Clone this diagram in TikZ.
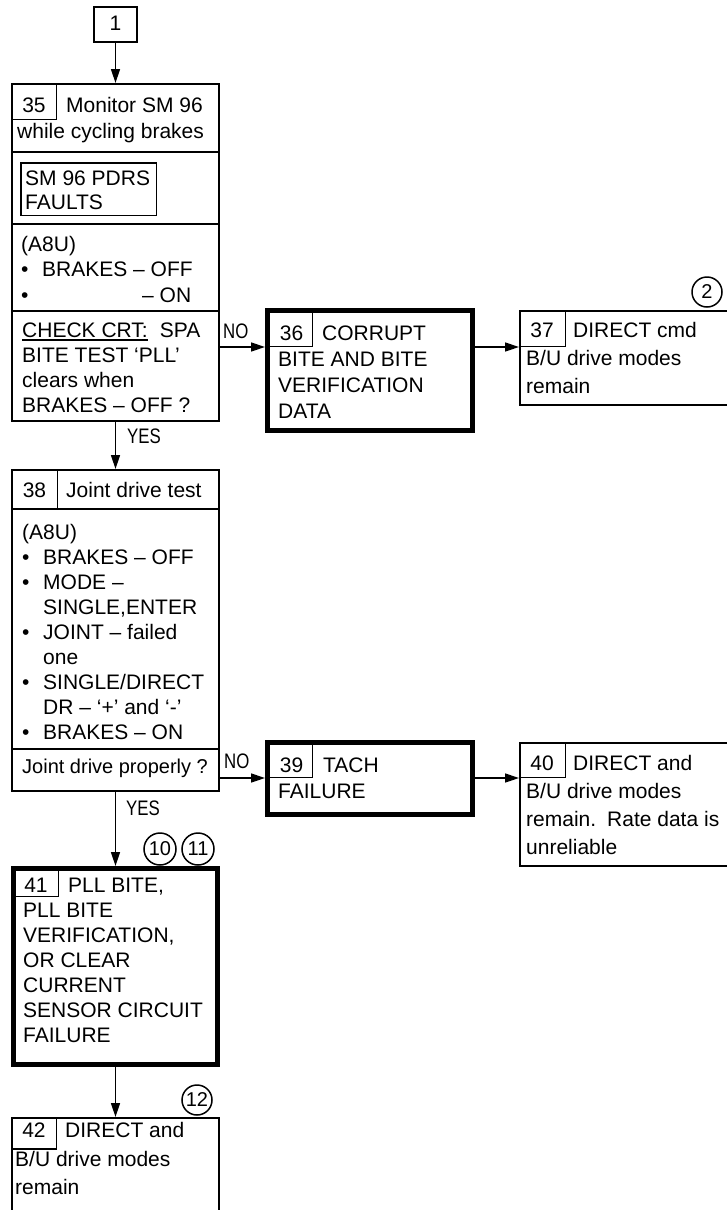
\documentclass[tikz,border=0pt]{standalone}
\usepackage{fontspec}
\setmainfont{Liberation Sans}
\newfontfamily\condfont{Liberation Sans}[FakeStretch=0.8]
\usetikzlibrary{arrows.meta}
\newcommand\myul[1]{\setbox0\hbox{#1}\rlap{\rule[-3.5pt]{\wd0}{1.5pt}}\box0}
\begin{document}
\begin{tikzpicture}[x=1pt,y=-1pt,
  every node/.style={inner sep=0pt},
  box/.style={draw,line width=2pt,rectangle,anchor=north west,inner sep=0pt,outer sep=1pt},
  thickbox/.style={draw,line width=5pt,rectangle,anchor=north west,inner sep=0pt,outer sep=2.5pt},
  numbox/.style={draw,line width=1.5pt,rectangle,anchor=north west,inner sep=0pt,outer sep=0.75pt},
  txt/.style={font=\fontsize{21}{#1}\selectfont,align=left,anchor=north west,inner sep=0pt},
  txt/.default=25,
  num/.style={font=\fontsize{21}{25}\selectfont,anchor=base,inner sep=0pt},
  lbl/.style={font=\condfont\fontsize{21}{25}\selectfont,anchor=base west,inner sep=0pt},
  circ/.style={draw,circle,line width=1.5pt,minimum size=30pt,inner sep=0pt,font=\fontsize{20}{20}\selectfont},
  arr/.style={line width=1.5pt,-{Triangle[length=14pt,width=9pt]}},
  divline/.style={line width=2pt},
]
\fill[white] (0,0) rectangle (726,1210);
\useasboundingbox (0,0) rectangle (726,1210);

% box 1
\node[box,minimum width=43pt,minimum height=35pt] (b1) at (93,6) {};
\node[num] (t1) at (115.5,30) {1};

% box 35
\node[box,minimum width=207pt,minimum height=337pt] (b35) at (11,83) {};
\node[numbox,minimum width=44.5pt,minimum height=35.5pt] (n35) at (11,83) {};
\node[num] (t35n) at (34,112) {35};
\node[txt=26] (t35a) at (17,93.8) {\strut\hspace*{49pt}Monitor SM 96\\while cycling brakes};
\draw[divline] (11,152) -- (220,152);
\node[numbox,minimum width=135.5pt,minimum height=52.5pt] (s96) at (20,162) {};
\node[txt=24] (t35b) at (25,168.2) {\strut SM 96 PDRS\\FAULTS};
\draw[divline] (11,224) -- (220,224);
\node[txt=25.5] (t35c) at (21,233.2) {\strut(A8U)\\\makebox[21pt][l]{•}BRAKES – OFF\\\makebox[21pt][l]{•}\hspace*{100pt}– ON};
\draw[divline] (11,311) -- (220,311);
\node[txt] (t35d) at (22,319.5) {\strut\myul{CHECK CRT:}\hspace*{12pt}SPA\\BITE TEST ‘PLL’\\clears when\\BRAKES – OFF ?};

% box 36
\node[thickbox,minimum width=205pt,minimum height=120pt] (b36) at (265,308) {};
\node[numbox,minimum width=46.5pt,minimum height=37.5pt] (n36) at (265,308) {};
\node[num] (t36n) at (291.5,340) {36};
\node[txt=26] (t36) at (278,321.8) {\strut\hspace*{44pt}CORRUPT\\BITE AND BITE\\VERIFICATION\\DATA};

% box 37
\node[box,minimum width=224pt,minimum height=94pt] (b37) at (519,310) {};
\node[numbox,minimum width=45.5pt,minimum height=35.5pt] (n37) at (519,310) {};
\node[num] (t37n) at (542,337) {37};
\node[txt=28] (t37) at (526,317.4) {\strut\hspace*{47pt}DIRECT cmd\\B/U drive modes\\remain};
\node[circ] (c2) at (707,292) {2};

% box 38
\node[box,minimum width=207pt,minimum height=321pt] (b38) at (11,469) {};
\node[numbox,minimum width=45.5pt,minimum height=38.5pt] (n38) at (11,469) {};
\node[num] (t38n) at (34.5,497) {38};
\node[txt] (t38a) at (66,479.5) {\strut Joint drive test};
\draw[divline] (11,509) -- (220,509);
\node[txt] (t38b) at (22,521.5) {\strut(A8U)\\\makebox[21pt][l]{•}BRAKES – OFF\\\makebox[21pt][l]{•}MODE –\\\hspace*{21pt}SINGLE,ENTER\\\makebox[21pt][l]{•}JOINT – failed\\\hspace*{21pt}one\\\makebox[21pt][l]{•}SINGLE/DIRECT\\\hspace*{21pt}DR – ‘+’ and ‘-’\\\makebox[21pt][l]{•}BRAKES – ON};
\draw[divline] (11,749) -- (220,749);
\node[txt,font=\fontsize{20}{25}\selectfont] (t38c) at (22,755.5) {\strut Joint drive properly ?};

% box 39
\node[thickbox,minimum width=205pt,minimum height=72pt] (b39) at (265,740) {};
\node[numbox,minimum width=46.5pt,minimum height=36.5pt] (n39) at (265,740) {};
\node[num] (t39n) at (291.5,772) {39};
\node[txt=26] (t39) at (278,753.8) {\strut\hspace*{45pt}TACH\\FAILURE};

% box 40
\node[box,minimum width=224pt,minimum height=123pt] (b40) at (519,742) {};
\node[numbox,minimum width=45.5pt,minimum height=34.5pt] (n40) at (519,742) {};
\node[num] (t40n) at (542,770) {40};
\node[txt=28] (t40) at (526,750.4) {\strut\hspace*{47pt}DIRECT and\\B/U drive modes\\remain.\hspace*{11pt}Rate data is\\unreliable};

% box 41
\node[thickbox,minimum width=204pt,minimum height=196pt] (b41) at (11,866) {};
\node[numbox,minimum width=46.5pt,minimum height=29.5pt] (n41) at (11,866) {};
\node[num] (t41n) at (36,892) {41};
\node[txt] (t41) at (23,874.5) {\strut\hspace*{45pt}PLL BITE,\\PLL BITE\\VERIFICATION,\\OR CLEAR\\CURRENT\\SENSOR CIRCUIT\\FAILURE};
\node[circ,minimum size=32pt] (c10) at (160,849) {10};
\node[circ,minimum size=32pt] (c11) at (198,849) {11};

% box 42
\node[box,minimum width=207pt,minimum height=150pt] (b42) at (11,1117) {};
\node[numbox,minimum width=44.5pt,minimum height=31pt] (n42) at (11,1117) {};
\node[num] (t42n) at (34,1137.5) {42};
\node[txt=28.5] (t42) at (15,1117.5) {\strut\hspace*{50pt}DIRECT and\\B/U drive modes\\remain};
\node[circ] (c12) at (197,1100) {12};

% connectors
\draw[arr] (b1.south) -- (b35.north);
\draw[arr] (b35.south) -- (b38.north);
\node[lbl] (yes1) at (127,443) {YES};
\draw[arr] (b35.east |- n36.south) -- (n36.south -| b36.west);
\node[lbl] (no1) at (223,338) {NO};
\draw[arr] (b36.east |- n37.south) -- (n37.south -| b37.west);
\draw[arr] (b38.east |- n39.south) -- (n39.south -| b39.west);
\node[lbl] (no2) at (224,768) {NO};
\draw[arr] (b39.east |- n40.south) -- (n40.south -| b40.west);
\draw[arr] (b38.south) -- (b41.north);
\node[lbl] (yes2) at (126,815) {YES};
\draw[arr] (b41.south) -- (b42.north);
\end{tikzpicture}
\end{document}
